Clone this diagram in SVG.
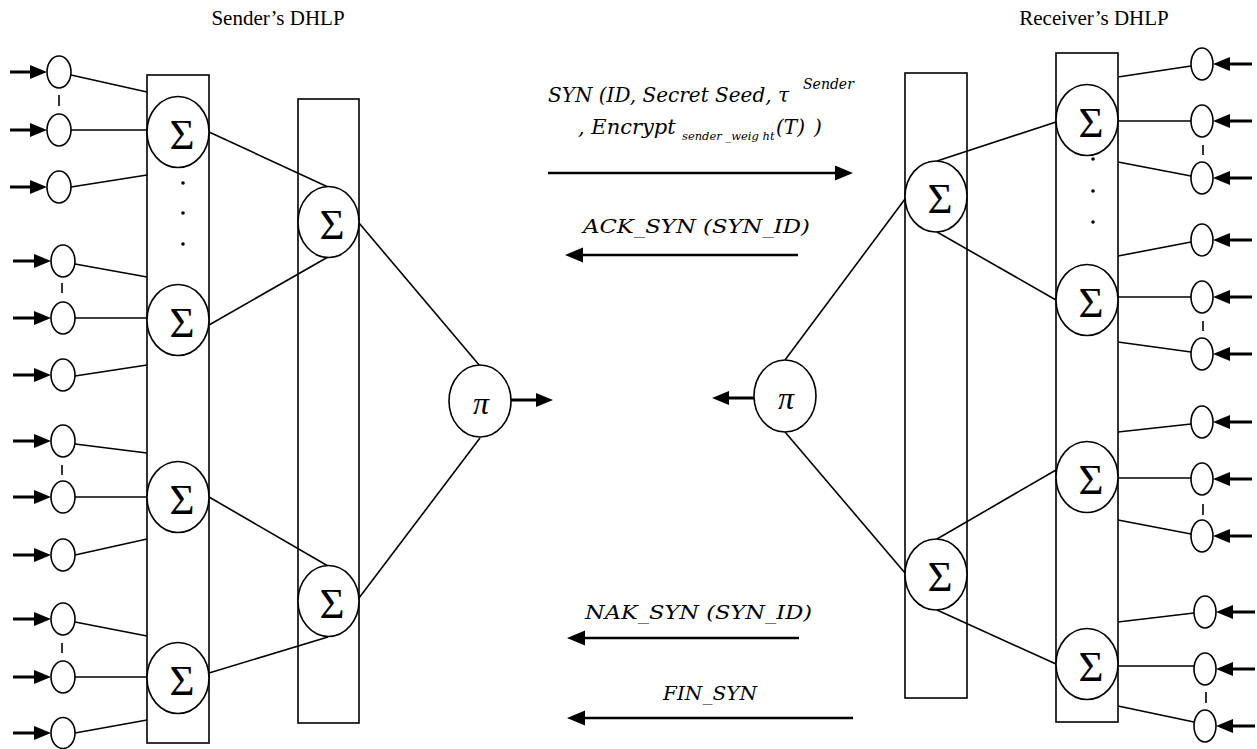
<svg xmlns="http://www.w3.org/2000/svg" width="1257" height="749" viewBox="0 0 1257 749">
<defs>
<style>
.box{fill:#fff;stroke:#000;stroke-width:1.6}
.nd{fill:#fff;stroke:#000;stroke-width:1.6}
.ln{stroke:#000;stroke-width:1.6;fill:none}
.in{stroke:#000;stroke-width:3;fill:none;marker-end:url(#ah)}
.ar{stroke:#000;stroke-width:2.6;fill:none;marker-end:url(#ah2)}
.dash{stroke:#000;stroke-width:1.6}
.sig{font-family:"Liberation Serif",serif;font-size:43px;text-anchor:middle}
.pi{font-family:"Liberation Serif",serif;font-style:italic;font-size:32px;text-anchor:middle}
.m{font-family:"DejaVu Serif",serif;font-style:italic;font-size:18px}
.m20{font-size:20px}
.m21{font-size:21px}
.sup{font-size:14px}
.sub{font-size:11.5px}
.t{font-family:"Liberation Serif",serif;font-size:21px;text-anchor:middle}
</style>
<marker id="ah" markerUnits="userSpaceOnUse" markerWidth="18" markerHeight="16" refX="12" refY="7" orient="auto"><path d="M0,0 L17,7 L0,14 z" fill="#000"/></marker>
<marker id="ah2" markerUnits="userSpaceOnUse" markerWidth="20" markerHeight="16" refX="13" refY="7.5" orient="auto"><path d="M0,0 L18,7.5 L0,15 z" fill="#000"/></marker>
</defs>
<rect width="1257" height="749" fill="#fff"/>

<g id="titles">
<text class="t" x="278" y="25">Sender’s DHLP</text>
<text class="t" x="1094" y="25">Receiver’s DHLP</text>
</g>

<g id="layer-sender-input"><rect class="box" x="147" y="75" width="62" height="668"/></g>
<g id="layer-sender-hidden"><rect class="box" x="298" y="99" width="61" height="624"/></g>
<g id="layer-receiver-hidden"><rect class="box" x="905" y="73" width="62" height="625"/></g>
<g id="layer-receiver-input"><rect class="box" x="1056" y="53" width="62" height="669"/></g>

<g id="connectors">
<line class="in" x1="10" y1="72" x2="42" y2="72"/>
<line class="in" x1="10" y1="130" x2="42" y2="130"/>
<line class="in" x1="10" y1="187" x2="42" y2="187"/>
<line class="in" x1="13" y1="261" x2="46" y2="261"/>
<line class="in" x1="13" y1="318" x2="46" y2="318"/>
<line class="in" x1="13" y1="375" x2="46" y2="375"/>
<line class="in" x1="13" y1="441" x2="46" y2="441"/>
<line class="in" x1="13" y1="497" x2="46" y2="497"/>
<line class="in" x1="13" y1="555" x2="46" y2="555"/>
<line class="in" x1="13" y1="619" x2="46" y2="619"/>
<line class="in" x1="13" y1="677" x2="46" y2="677"/>
<line class="in" x1="13" y1="733" x2="46" y2="733"/>
<line class="ln" x1="71" y1="75" x2="147" y2="92"/>
<line class="ln" x1="71" y1="130" x2="147" y2="130"/>
<line class="ln" x1="71" y1="187" x2="147" y2="175"/>
<line class="ln" x1="75" y1="264" x2="147" y2="277"/>
<line class="ln" x1="75" y1="318" x2="147" y2="318"/>
<line class="ln" x1="75" y1="376" x2="147" y2="365"/>
<line class="ln" x1="75" y1="444" x2="147" y2="453"/>
<line class="ln" x1="75" y1="497" x2="147" y2="497"/>
<line class="ln" x1="75" y1="555" x2="147" y2="539"/>
<line class="ln" x1="75" y1="622" x2="147" y2="636"/>
<line class="ln" x1="75" y1="677" x2="147" y2="677"/>
<line class="ln" x1="75" y1="733" x2="147" y2="720"/>
<line class="dash" x1="59" y1="95" x2="59" y2="106"/>
<line class="dash" x1="62" y1="283" x2="62" y2="293"/>
<line class="dash" x1="62" y1="465" x2="62" y2="475"/>
<line class="dash" x1="62" y1="643" x2="62" y2="653"/>
<line class="ln" x1="209" y1="132" x2="328" y2="187"/>
<line class="ln" x1="209" y1="325" x2="328" y2="257"/>
<line class="ln" x1="209" y1="497" x2="328" y2="566"/>
<line class="ln" x1="209" y1="673" x2="328" y2="637"/>
<line class="ln" x1="359" y1="223" x2="480" y2="366"/>
<line class="ln" x1="359" y1="598" x2="480" y2="438"/>
<line class="in" x1="511" y1="400" x2="548" y2="400"/>
<line class="in" x1="754" y1="398" x2="717" y2="398"/>
<line class="ln" x1="785" y1="360" x2="905" y2="199"/>
<line class="ln" x1="785" y1="432" x2="905" y2="573"/>
<line class="ln" x1="937" y1="161" x2="1056" y2="122"/>
<line class="ln" x1="937" y1="232" x2="1056" y2="300"/>
<line class="ln" x1="937" y1="539" x2="1056" y2="470"/>
<line class="ln" x1="937" y1="610" x2="1056" y2="664"/>
<line class="ln" x1="1118" y1="77" x2="1191" y2="66"/>
<line class="ln" x1="1118" y1="121" x2="1191" y2="121"/>
<line class="ln" x1="1118" y1="162" x2="1191" y2="176"/>
<line class="ln" x1="1118" y1="256" x2="1191" y2="242"/>
<line class="ln" x1="1118" y1="297" x2="1191" y2="297"/>
<line class="ln" x1="1118" y1="342" x2="1191" y2="352"/>
<line class="ln" x1="1118" y1="432" x2="1191" y2="424"/>
<line class="ln" x1="1118" y1="478" x2="1191" y2="478"/>
<line class="ln" x1="1118" y1="520" x2="1191" y2="534"/>
<line class="ln" x1="1118" y1="622" x2="1194" y2="613"/>
<line class="ln" x1="1118" y1="666" x2="1194" y2="666"/>
<line class="ln" x1="1118" y1="706" x2="1194" y2="722"/>
<line class="dash" x1="1203" y1="145" x2="1203" y2="155"/>
<line class="dash" x1="1203" y1="321" x2="1203" y2="331"/>
<line class="dash" x1="1203" y1="504" x2="1203" y2="515"/>
<line class="dash" x1="1206" y1="692" x2="1206" y2="703"/>
<line class="in" x1="1252" y1="64" x2="1218" y2="64"/>
<line class="in" x1="1252" y1="121" x2="1218" y2="121"/>
<line class="in" x1="1252" y1="178" x2="1218" y2="178"/>
<line class="in" x1="1252" y1="240" x2="1218" y2="240"/>
<line class="in" x1="1252" y1="297" x2="1218" y2="297"/>
<line class="in" x1="1252" y1="354" x2="1218" y2="354"/>
<line class="in" x1="1252" y1="422" x2="1218" y2="422"/>
<line class="in" x1="1252" y1="479" x2="1218" y2="479"/>
<line class="in" x1="1252" y1="536" x2="1218" y2="536"/>
<line class="in" x1="1255" y1="612" x2="1221" y2="612"/>
<line class="in" x1="1255" y1="669" x2="1221" y2="669"/>
<line class="in" x1="1255" y1="726" x2="1221" y2="726"/>
<line class="ar" x1="548" y1="173" x2="848" y2="173"/>
<line class="ar" x1="798" y1="255" x2="570" y2="255"/>
<line class="ar" x1="799" y1="638" x2="572" y2="638"/>
<line class="ar" x1="853" y1="718" x2="572" y2="718"/>
</g>

<g id="sender-inputs">
<ellipse class="nd" cx="59" cy="72" rx="12" ry="16"/>
<ellipse class="nd" cx="59" cy="130" rx="12" ry="16"/>
<ellipse class="nd" cx="59" cy="187" rx="12" ry="16"/>
<ellipse class="nd" cx="63" cy="261" rx="12" ry="16"/>
<ellipse class="nd" cx="63" cy="318" rx="12" ry="16"/>
<ellipse class="nd" cx="63" cy="375" rx="12" ry="16"/>
<ellipse class="nd" cx="63" cy="441" rx="12" ry="16"/>
<ellipse class="nd" cx="63" cy="497" rx="12" ry="16"/>
<ellipse class="nd" cx="63" cy="555" rx="12" ry="16"/>
<ellipse class="nd" cx="63" cy="619" rx="12" ry="16"/>
<ellipse class="nd" cx="63" cy="677" rx="12" ry="16"/>
<ellipse class="nd" cx="63" cy="733" rx="12" ry="15.5"/>
</g>

<g id="receiver-inputs">
<ellipse class="nd" cx="1202" cy="64" rx="11" ry="16"/>
<ellipse class="nd" cx="1202" cy="121" rx="11" ry="16"/>
<ellipse class="nd" cx="1202" cy="178" rx="11" ry="16"/>
<ellipse class="nd" cx="1202" cy="240" rx="11" ry="16"/>
<ellipse class="nd" cx="1202" cy="297" rx="11" ry="16"/>
<ellipse class="nd" cx="1202" cy="354" rx="11" ry="16"/>
<ellipse class="nd" cx="1202" cy="422" rx="11" ry="16"/>
<ellipse class="nd" cx="1202" cy="479" rx="11" ry="16"/>
<ellipse class="nd" cx="1202" cy="536" rx="11" ry="16"/>
<ellipse class="nd" cx="1205" cy="612" rx="11" ry="16"/>
<ellipse class="nd" cx="1205" cy="669" rx="11" ry="16"/>
<ellipse class="nd" cx="1205" cy="726" rx="11" ry="16"/>
</g>

<g id="sum-s1"><ellipse class="nd" cx="178" cy="132" rx="31" ry="35.5"/><text class="sig" x="182" y="149">Σ</text></g>
<g id="sum-s2"><ellipse class="nd" cx="178" cy="320" rx="31" ry="35.5"/><text class="sig" x="182" y="337">Σ</text></g>
<g id="sum-s3"><ellipse class="nd" cx="178" cy="497" rx="31" ry="35.5"/><text class="sig" x="182" y="514">Σ</text></g>
<g id="sum-s4"><ellipse class="nd" cx="178" cy="678" rx="31" ry="35.5"/><text class="sig" x="182" y="695">Σ</text></g>
<g id="dots-s"><circle cx="183" cy="183" r="1.8"/><circle cx="183" cy="213" r="1.8"/><circle cx="183" cy="244" r="1.8"/></g>
<g id="sum-s5"><ellipse class="nd" cx="328.5" cy="222" rx="30.5" ry="35.5"/><text class="sig" x="332" y="239">Σ</text></g>
<g id="sum-s6"><ellipse class="nd" cx="328.5" cy="601" rx="30.5" ry="35.5"/><text class="sig" x="332" y="618">Σ</text></g>
<g id="prod-s"><ellipse class="nd" cx="480" cy="401" rx="31" ry="36"/><text class="pi" x="481" y="414">π</text></g>

<g id="prod-r"><ellipse class="nd" cx="785" cy="396" rx="31" ry="36"/><text class="pi" x="786" y="409">π</text></g>
<g id="sum-r5"><ellipse class="nd" cx="936" cy="196.5" rx="31" ry="35.5"/><text class="sig" x="940" y="213">Σ</text></g>
<g id="sum-r6"><ellipse class="nd" cx="936" cy="574.5" rx="31" ry="35.5"/><text class="sig" x="940" y="591">Σ</text></g>
<g id="sum-r1"><ellipse class="nd" cx="1087" cy="120" rx="31" ry="35.5"/><text class="sig" x="1091" y="137">Σ</text></g>
<g id="sum-r2"><ellipse class="nd" cx="1087" cy="300" rx="31" ry="35.5"/><text class="sig" x="1091" y="317">Σ</text></g>
<g id="sum-r3"><ellipse class="nd" cx="1087" cy="477" rx="31" ry="35.5"/><text class="sig" x="1091" y="494">Σ</text></g>
<g id="sum-r4"><ellipse class="nd" cx="1087" cy="664" rx="31" ry="35.5"/><text class="sig" x="1091" y="681">Σ</text></g>
<g id="dots-r"><circle cx="1093" cy="159" r="1.8"/><circle cx="1093" cy="191" r="1.8"/><circle cx="1093" cy="222" r="1.8"/></g>

<g id="labels">
<text class="m m20" x="548" y="102">SYN (ID, Secret Seed, τ<tspan class="sup" x="803" y="89">Sender</tspan></text>
<text class="m m21" x="578" y="134">, Encrypt<tspan class="sub" x="682" y="140">sender _weig ht</tspan><tspan class="m20" x="776" y="134">(T)</tspan><tspan class="m20" x="814" y="134">)</tspan></text>
<text class="m" x="583" y="233" textLength="227" lengthAdjust="spacingAndGlyphs">ACK_SYN (SYN_ID)</text>
<text class="m" x="585" y="619" textLength="227" lengthAdjust="spacingAndGlyphs">NAK_SYN (SYN_ID)</text>
<text class="m" x="663" y="700" textLength="94" lengthAdjust="spacingAndGlyphs">FIN_SYN</text>
</g>
</svg>
